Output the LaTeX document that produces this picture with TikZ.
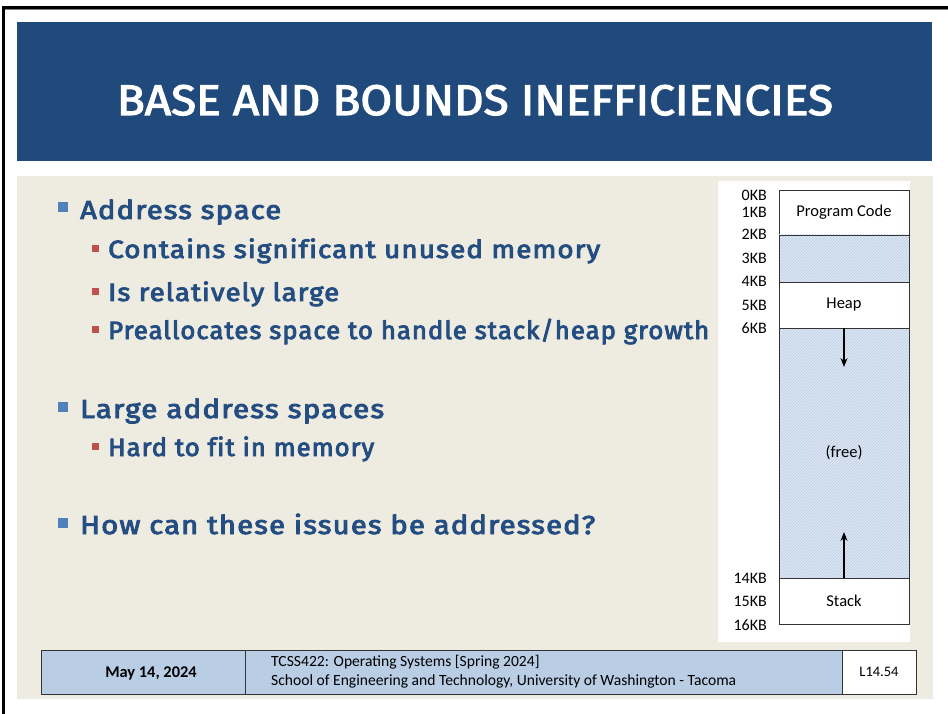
\documentclass[tikz,border=0pt]{standalone}
\usepackage{fontspec}
\usepackage{graphicx}
\setmainfont{Carlito}
\newfontfamily\titlefont[FakeBold=2.6]{Fira Sans}
\newfontfamily\bodyfont[LetterSpace=4, FakeBold=3.4, Ligatures=NoCommon]{Fira Sans}
\usetikzlibrary{patterns,arrows.meta}
\definecolor{titleblue}{HTML}{214A7C}
\definecolor{bodybeige}{HTML}{EEEBE0}
\definecolor{textblue}{HTML}{244D82}
\definecolor{bulblue}{HTML}{4F81BD}
\definecolor{bulred}{HTML}{C0504D}
\definecolor{hatchfill}{HTML}{DFE8F4}
\definecolor{hatchline}{HTML}{B8CBE3}
\definecolor{footblue}{HTML}{B9CDE5}
\definecolor{boxline}{HTML}{333333}
\tikzset{
  lone/.style={anchor=base west, inner sep=0pt, text=textblue, font=\bodyfont\fontsize{26}{30}\selectfont},
  ltwo/.style={anchor=base west, inner sep=0pt, text=textblue, font=\bodyfont\fontsize{25}{30}\selectfont},
  bone/.style={fill=bulblue, inner sep=0pt, minimum size=10pt, anchor=south west},
  btwo/.style={fill=bulred, inner sep=0pt, minimum size=7pt, anchor=south west},
  region/.style={draw=boxline, line width=0.8pt, minimum width=130pt, inner sep=0pt, font=\fontsize{16.5}{18}\selectfont},
  hatched/.style={preaction={fill=hatchfill}, pattern=north east lines, pattern color=hatchline},
  kb/.style={anchor=east, inner sep=0pt, font=\fontsize{16}{18}\selectfont},
  arr/.style={-{Stealth[length=9pt,width=7pt]}, line width=1.1pt},
  footcell/.style={draw=boxline, line width=1pt, inner sep=0pt, minimum height=44pt},
}
\begin{document}
\begin{tikzpicture}[x=1pt,y=-1pt]
\useasboundingbox (0,0) rectangle (948,714);
\fill[white] (0,0) rectangle (948,714);
% frame
\fill[black] (2,6) rectangle (948,9);
\fill[gray] (5,9) rectangle (948,10.5);
\fill[black] (2,6) rectangle (5,714);
% title
\fill[titleblue] (17,22) rectangle (932,161.5);
\node[anchor=base, inner sep=0pt, text=white, font=\titlefont\fontsize{42}{48}\selectfont] (title) at (475,115)
  {\resizebox{716pt}{30pt}{BASE AND BOUNDS INEFFICIENCIES}};
% body
\fill[bodybeige] (17,176) rectangle (933,699);
\fill[white] (718,181) rectangle (910,642);
% bullets
\node[bone] (b1) at (58,212) {};
\node[lone] (t1) at (80,219) {\resizebox{201pt}{\height}{Address space}};
\node[btwo] (b2) at (92,252) {};
\node[ltwo] (t2) at (108,258) {\resizebox{492pt}{\height}{Contains significant unused memory}};
\node[btwo] (b3) at (92,295) {};
\node[ltwo] (t3) at (108,301) {\resizebox{231pt}{\height}{Is relatively large}};
\node[btwo] (b4) at (92,333) {};
\node[ltwo] (t4) at (108,339) {\resizebox{601pt}{\height}{Preallocates space to handle stack/heap growth}};
\node[bone] (b5) at (58,412) {};
\node[lone] (t5) at (80,418) {\resizebox{304pt}{\height}{Large address spaces}};
\node[btwo] (b6) at (92,450) {};
\node[ltwo] (t6) at (108,456) {\resizebox{266pt}{\height}{Hard to fit in memory}};
\node[bone] (b7) at (58,528) {};
\node[lone] (t7) at (80,534) {\resizebox{515pt}{\height}{How can these issues be addressed?}};
% memory layout
\node[region, minimum height=45pt] (code) at (844,212.5) {Program Code};
\node[region, hatched, minimum height=47pt] (gap) at (844,258.5) {};
\node[region, minimum height=46pt] (heap) at (844,305) {Heap};
\node[region, hatched, minimum height=250pt] (free) at (844,453) {(free)};
\node[region, minimum height=46pt] (stack) at (844,601) {Stack};
\coordinate (hend) at (844,367);
\coordinate (send) at (844,532);
\draw[arr] (free.north) -- (hend);
\draw[arr] (free.south) -- (send);
\node[kb] (k0) at (767,195) {0KB};
\node[kb] (k1) at (767,212) {1KB};
\node[kb] (k2) at (767,234) {2KB};
\node[kb] (k3) at (767,258) {3KB};
\node[kb] (k4) at (767,281) {4KB};
\node[kb] (k5) at (767,305) {5KB};
\node[kb] (k6) at (767,328) {6KB};
\node[kb] (k14) at (767,578) {14KB};
\node[kb] (k15) at (767,601) {15KB};
\node[kb] (k16) at (767,625) {16KB};
% footer
\node[footcell, fill=footblue, minimum width=204pt] (fdate) at (143,672) {};
\node[footcell, fill=footblue, minimum width=597pt] (fmid) at (543.5,672) {};
\node[footcell, fill=white, minimum width=74pt] (fnum) at (879,672) {};
\node[inner sep=0pt, font=\bfseries\fontsize{16.4}{18}\selectfont] (date) at (151,673) {May 14, 2024};
\node[anchor=west, inner sep=0pt, align=left, font=\fontsize{15.6}{19}\selectfont] (course) at (271,671.5)
  {TCSS422: Operating Systems [Spring 2024]\\School of Engineering and Technology, University of Washington - Tacoma};
\node[inner sep=0pt, font=\fontsize{14.5}{16}\selectfont] (num) at (879,672) {L14.54};
\end{tikzpicture}
\end{document}
